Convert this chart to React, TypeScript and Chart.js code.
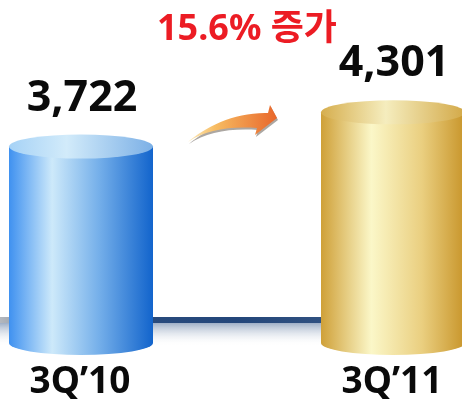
import React, { useEffect, useRef } from "react";
import { Chart, registerables } from "chart.js";

Chart.register(...registerables);

const categories = ["3Q’10", "3Q’11"];
const values = [3722, 4301];
const valueLabels = ["3,722", "4,301"];
const growthLabel = "15.6% 증가";
const axisMin = 400;
const axisMax = 6200;

const FONT = '"Noto Sans", "Noto Sans CJK KR", sans-serif';

const bodyStops = [
  [
    [0, "#3f91f0"],
    [0.3, "#cde9fa"],
    [0.62, "#76b0ea"],
    [1, "#1264cc"],
  ],
  [
    [0, "#cfa038"],
    [0.35, "#fbf7c8"],
    [0.7, "#eacf80"],
    [1, "#c8952a"],
  ],
];
const topStops = [
  [
    [0, "#a6d2f6"],
    [0.4, "#d2ebfa"],
    [1, "#7cb0e6"],
  ],
  [
    [0, "#d6ae4e"],
    [0.45, "#f5edbe"],
    [1, "#d3a948"],
  ],
];

const cylinderPlugin = {
  id: "cylinders",
  beforeDatasetsDraw(chart: any) {
    const ctx = chart.ctx;
    const meta = chart.getDatasetMeta(0);
    const b0 = meta.data[0];
    const b1 = meta.data[1];
    if (!b0 || !b1) return;
    const base = b0.base;
    const ly = base - 23;
    const sg = ctx.createLinearGradient(0, ly, 0, ly + 26);
    sg.addColorStop(0, "rgba(110,135,170,0.85)");
    sg.addColorStop(1, "rgba(255,255,255,0)");
    ctx.save();
    ctx.fillStyle = sg;
    ctx.fillRect(0, ly, b1.x, 26);
    const lg = ctx.createLinearGradient(0, 0, b1.x, 0);
    lg.addColorStop(0, "#b4b8be");
    lg.addColorStop(0.06, "#8e9aa8");
    lg.addColorStop(0.15, "#2f5080");
    lg.addColorStop(0.6, "#23467a");
    lg.addColorStop(1, "#3b5a86");
    ctx.fillStyle = lg;
    ctx.fillRect(0, ly - 3, b1.x, 6);
    ctx.restore();
  },
  afterDatasetsDraw(chart: any) {
    const ctx = chart.ctx;
    const meta = chart.getDatasetMeta(0);
    const xScale = chart.scales.x;
    const ry = 12;
    meta.data.forEach((bar: any, i: number) => {
      const { x, y, base, width } = bar.getProps(["x", "y", "base", "width"], true);
      const l = x - width / 2;
      const r = x + width / 2;
      ctx.save();
      const g = ctx.createLinearGradient(l, 0, r, 0);
      bodyStops[i].forEach(([o, c]: any) => g.addColorStop(o, c));
      ctx.beginPath();
      ctx.moveTo(l, y);
      ctx.lineTo(l, base);
      ctx.ellipse(x, base, width / 2, ry, 0, Math.PI, 0, true);
      ctx.lineTo(r, y);
      ctx.closePath();
      ctx.fillStyle = g;
      ctx.fill();
      const tg = ctx.createLinearGradient(l, 0, r, 0);
      topStops[i].forEach(([o, c]: any) => tg.addColorStop(o, c));
      ctx.beginPath();
      ctx.ellipse(x, y, width / 2, ry, 0, 0, Math.PI * 2);
      ctx.fillStyle = tg;
      ctx.fill();
      ctx.restore();

      ctx.save();
      ctx.font = `bold 43px ${FONT}`;
      ctx.fillStyle = "#0a0a0a";
      ctx.textAlign = "center";
      ctx.textBaseline = "alphabetic";
      ctx.fillText(valueLabels[i], x + 1, y - ry - 24);
      ctx.restore();
    });

    ctx.save();
    ctx.font = `bold 37px ${FONT}`;
    ctx.fillStyle = "#0a0a0a";
    ctx.textAlign = "center";
    ctx.textBaseline = "alphabetic";
    categories.forEach((c, i) => {
      ctx.fillText(c, xScale.getPixelForValue(i) - 1, chart.chartArea.bottom + 50);
    });
    ctx.restore();

    const b0 = meta.data[0];
    const b1 = meta.data[1];
    const mid = (b0.x + b1.x) / 2;
    const top = chart.chartArea.top;

    ctx.save();
    ctx.font = `bold 36px ${FONT}`;
    ctx.fillStyle = "#ec1c24";
    ctx.textAlign = "center";
    ctx.textBaseline = "alphabetic";
    ctx.fillText(growthLabel, mid + 10, top + 40);
    ctx.restore();

    const ax = mid - 49;
    const ay = top + 142;
    const drawArrow = () => {
      ctx.beginPath();
      ctx.moveTo(ax, ay);
      ctx.bezierCurveTo(ax + 17, ay - 15, ax + 47, ay - 30, ax + 80, ay - 29);
      ctx.lineTo(ax + 82, ay - 37);
      ctx.lineTo(ax + 89, ay - 24);
      ctx.lineTo(ax + 67, ay - 7);
      ctx.lineTo(ax + 69, ay - 14);
      ctx.bezierCurveTo(ax + 42, ay - 16, ax + 17, ay - 12, ax, ay);
      ctx.closePath();
    };
    ctx.save();
    ctx.translate(1, 2);
    drawArrow();
    ctx.fillStyle = "rgba(90,80,70,0.5)";
    ctx.fill();
    ctx.restore();
    ctx.save();
    const ag = ctx.createLinearGradient(ax, 0, ax + 90, 0);
    ag.addColorStop(0, "#fcecc0");
    ag.addColorStop(0.3, "#f7bc62");
    ag.addColorStop(1, "#e8652a");
    drawArrow();
    ctx.fillStyle = ag;
    ctx.fill();
    ctx.restore();
  },
};

export default function App() {
  const ref = useRef<HTMLCanvasElement>(null);
  useEffect(() => {
    if (!ref.current) return;
    const chart = new Chart(ref.current, {
      type: "bar",
      data: {
        labels: categories,
        datasets: [
          {
            data: values,
            base: axisMin,
            backgroundColor: "rgba(0,0,0,0)",
            barThickness: 144,
            clip: false as any,
          } as any,
        ],
      },
      options: {
        responsive: false,
        animation: false,
        layout: { padding: { left: 81, right: 69, top: 0, bottom: 62 } },
        plugins: {
          legend: { display: false },
          tooltip: { enabled: false },
          title: { display: false },
        },
        scales: {
          x: { type: "category", offset: false, display: false },
          y: { display: false, min: axisMin, max: axisMax },
        },
      },
      plugins: [cylinderPlugin],
    });
    return () => chart.destroy();
  }, []);
  return (
    <div style={{ position: "fixed", left: 0, top: 0, width: 462, height: 405, background: "#fff" }}>
      <canvas ref={ref} width={462} height={405} style={{ display: "block" }} />
    </div>
  );
}
